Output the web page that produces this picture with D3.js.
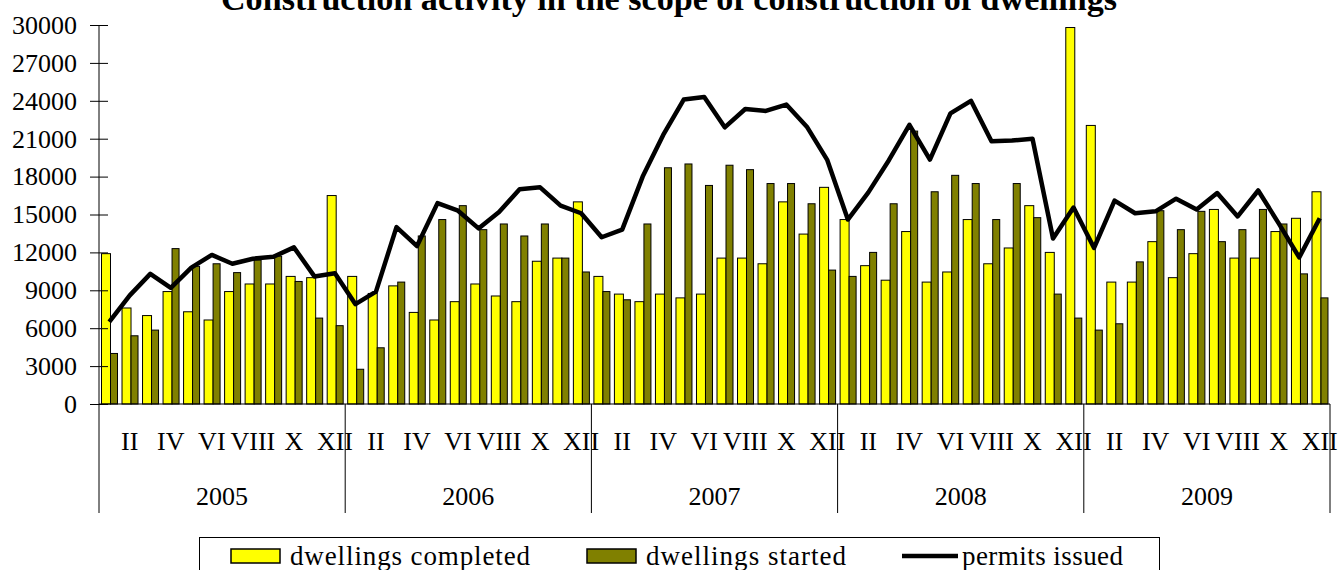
<!DOCTYPE html>
<html>
<head>
<meta charset="utf-8">
<script src="https://cdn.jsdelivr.net/npm/d3@7/dist/d3.min.js"></script>
<style>
  html, body { margin: 0; padding: 0; background: #fff; }
  svg { display: block; }
  text { font-family: "Liberation Serif", "Times New Roman", serif; fill: #000; }
</style>
</head>
<body>
<svg id="chart" width="1338" height="570"></svg>
<script>
const years = ["2005", "2006", "2007", "2008", "2009"];
const months = ["I","II","III","IV","V","VI","VII","VIII","IX","X","XI","XII"];
const yTicks = [0, 3000, 6000, 9000, 12000, 15000, 18000, 21000, 24000, 27000, 30000];
const seriesNames = ["dwellings completed", "dwellings started", "permits issued"];

const completed = [
  11900, 7600, 7000, 8900, 7300, 6650, 8900, 9500, 9500, 10100, 10000, 16500,
  10100, 8750, 9350, 7250, 6650, 8100, 9500, 8550, 8100, 11300, 11550, 16000,
  10100, 8700, 8100, 8700, 8400, 8700, 11550, 11550, 11100, 16000, 13450, 17150,
  14600, 10950, 9800, 13650, 9650, 10450, 14600, 11100, 12350, 15700, 12000, 29800,
  22050, 9650, 9650, 12850, 10000, 11900, 15400, 11550, 11550, 13650, 14700, 16800
];
const started = [
  4000, 5400, 5850, 12300, 10900, 11100, 10400, 11400, 11700, 9700, 6800, 6200,
  2750, 4450, 9650, 13300, 14600, 15700, 13800, 14250, 13300, 14250, 11550, 10450,
  8900, 8250, 14250, 18700, 19000, 17300, 18900, 18550, 17450, 17450, 15850, 10600,
  10100, 12000, 15850, 21600, 16800, 18100, 17450, 14600, 17450, 14750, 8700, 6800,
  5850, 6350, 11250, 15300, 13800, 15250, 12850, 13800, 15400, 14250, 10300, 8400
];
const permits = [
  6500, 8600, 10300, 9200, 10800, 11800, 11100, 11500, 11650, 12400, 10100, 10350,
  7900, 8900, 14000, 12500, 15900, 15300, 13900, 15200, 17000, 17150, 15700, 15100,
  13200, 13800, 18000, 21300, 24100, 24300, 21900, 23350, 23200, 23700, 21950, 19300,
  14600, 16750, 19300, 22100, 19350, 23000, 24000, 20800, 20850, 21000, 13100, 15550,
  12350, 16100, 15100, 15250, 16250, 15400, 16700, 14850, 16900, 14300, 11600, 14700
];

(function () {
// category keys: one per month
const cats = [];
years.forEach(yr => months.forEach(m => cats.push(yr + "-" + m)));

const svg = d3.select("#chart");
const pLeft = 99, pRight = 1330, pTop = 25, pBottom = 404, catBottom = 513;

const x = d3.scaleBand().domain(cats).range([pLeft, pRight]).paddingInner(0).paddingOuter(0);
const xYear = d3.scaleBand().domain(years).range([pLeft, pRight]);
const y = d3.scaleLinear().domain([0, 30000]).range([pBottom, pTop]);
const bw = x.bandwidth();

// Title
svg.append("text")
  .attr("x", 221).attr("y", 10)
  .attr("font-size", 33).attr("font-weight", "bold")
  .attr("textLength", 896).attr("lengthAdjust", "spacingAndGlyphs")
  .text("Construction activity in the scope of construction of dwellings");

// Bars
const gBars = svg.append("g");
gBars.selectAll("rect.comp").data(completed).join("rect")
  .attr("class", "comp")
  .attr("x", (d, i) => x(cats[i]) + 2.5)
  .attr("width", 9)
  .attr("y", d => y(d))
  .attr("height", d => y(0) - y(d))
  .attr("fill", "#ffff00").attr("stroke", "#000").attr("stroke-width", 1);
gBars.selectAll("rect.start").data(started).join("rect")
  .attr("class", "start")
  .attr("x", (d, i) => x(cats[i]) + 11.5)
  .attr("width", 7)
  .attr("y", d => y(d))
  .attr("height", d => y(0) - y(d))
  .attr("fill", "#808000").attr("stroke", "#000").attr("stroke-width", 1);

// Y axis
const yAxis = d3.axisLeft(y).tickValues(yTicks).tickSize(9).tickPadding(13).tickFormat(d3.format("d"));
const gy = svg.append("g").attr("transform", `translate(${pLeft},0)`).call(yAxis);
gy.select(".domain").remove();
gy.selectAll(".tick line").attr("x1", 9).attr("stroke", "#000");
gy.selectAll(".tick text").attr("font-size", 26).attr("font-family", "Liberation Serif, serif");
svg.append("line").attr("x1", pLeft).attr("x2", pLeft).attr("y1", pTop).attr("y2", catBottom).attr("stroke", "#000");

// X axis line
svg.append("line").attr("x1", pLeft).attr("x2", pRight).attr("y1", pBottom).attr("y2", pBottom).attr("stroke", "#000");

// Year dividers
svg.selectAll("line.ydiv").data(years).join("line")
  .attr("class", "ydiv")
  .attr("x1", d => xYear(d) + xYear.bandwidth()).attr("x2", d => xYear(d) + xYear.bandwidth())
  .attr("y1", pBottom).attr("y2", catBottom).attr("stroke", "#000");

// Month labels (every second month)
const shownCats = cats.filter((c, i) => i % 2 === 1);
svg.selectAll("text.mlab").data(shownCats).join("text")
  .attr("class", "mlab")
  .attr("x", d => x(d) + bw / 2).attr("y", 450)
  .attr("text-anchor", "middle").attr("font-size", 26)
  .text(d => d.split("-")[1]);

// Year labels
svg.selectAll("text.ylab").data(years).join("text")
  .attr("class", "ylab")
  .attr("x", d => xYear(d) + xYear.bandwidth() / 2).attr("y", 505)
  .attr("text-anchor", "middle").attr("font-size", 26)
  .text(d => d);

// Permits line
const line = d3.line().x((d, i) => x(cats[i]) + bw / 2).y(d => y(d));
svg.append("path").datum(permits)
  .attr("d", line).attr("fill", "none").attr("stroke", "#000")
  .attr("stroke-width", 4.5).attr("stroke-linejoin", "round");

// Legend
const lg = svg.append("g");
lg.append("rect").attr("x", 199.5).attr("y", 537.5).attr("width", 960).attr("height", 50)
  .attr("fill", "#fff").attr("stroke", "#000").attr("stroke-width", 1);
lg.append("rect").attr("x", 231).attr("y", 549).attr("width", 49).attr("height", 14)
  .attr("fill", "#ffff00").attr("stroke", "#000").attr("stroke-width", 1.5);
lg.append("text").attr("x", 290).attr("y", 565).attr("font-size", 27)
  .attr("textLength", 240).attr("lengthAdjust", "spacing").text(seriesNames[0]);
lg.append("rect").attr("x", 587).attr("y", 549).attr("width", 49).attr("height", 14)
  .attr("fill", "#808000").attr("stroke", "#000").attr("stroke-width", 1.5);
lg.append("text").attr("x", 646).attr("y", 565).attr("font-size", 27)
  .attr("textLength", 200).attr("lengthAdjust", "spacing").text(seriesNames[1]);
lg.append("line").attr("x1", 902).attr("x2", 958).attr("y1", 556).attr("y2", 556)
  .attr("stroke", "#000").attr("stroke-width", 4.5);
lg.append("text").attr("x", 962).attr("y", 565).attr("font-size", 27)
  .attr("textLength", 161).attr("lengthAdjust", "spacing").text(seriesNames[2]);
})();
</script>
</body>
</html>
